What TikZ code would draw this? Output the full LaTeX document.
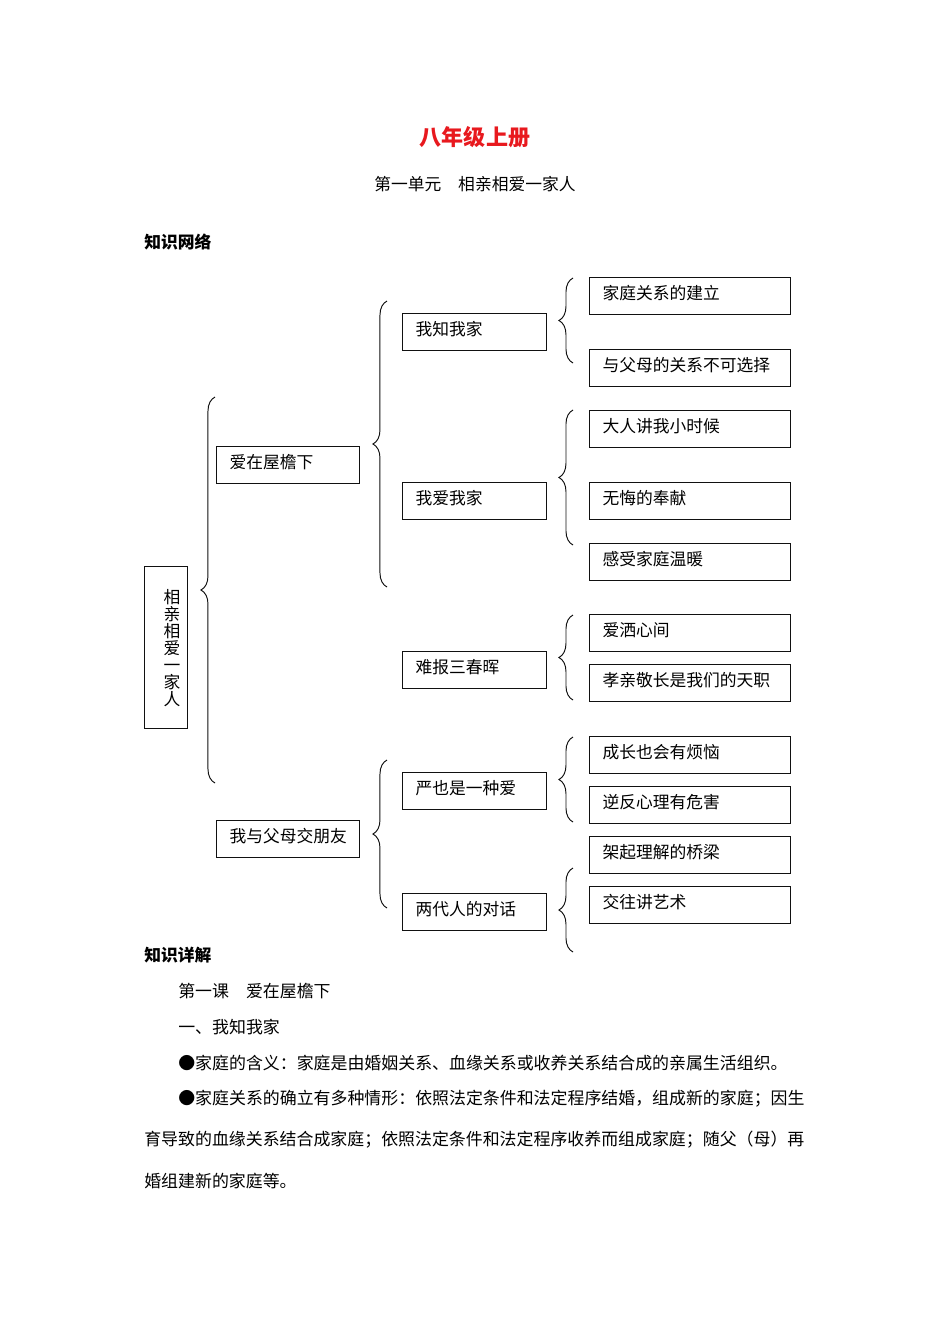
\documentclass[tikz,border=0pt]{standalone}
\usepackage{fontspec}
\setmainfont{Noto Sans CJK SC}
\usepackage{xcolor}
\usepackage{tikz}
\usetikzlibrary{decorations.pathreplacing}
\definecolor{ink}{HTML}{111111}
\definecolor{titlered}{HTML}{E8191E}

\begin{document}
\begin{tikzpicture}[
  x=0.6263pt, y=-0.6263pt,
  sectionbox/.style={rectangle, draw=ink, line width=0.75pt, anchor=north west, minimum width=89.6pt, minimum height=23.2pt, text width=73.4pt, text height=9pt, text depth=5.4pt, inner xsep=8.1pt, inner ysep=0pt, align=left, font=\fontsize{10.5}{12}\selectfont},
  topicbox/.style={sectionbox, minimum width=90.2pt, text width=74pt},
  leafbox/.style={sectionbox, minimum width=125.9pt, text width=109.7pt},
  bracepath/.style={decorate, decoration={brace, amplitude=8.8pt, aspect=0.5}, line width=0.6pt, ink},
  bodytext/.style={anchor=west, inner sep=0pt, font=\fontsize{10.6}{12}\selectfont},
  headtext/.style={bodytext, font=\fontsize{10.5}{12}\selectfont\bfseries}
]
  \fill[white] (0,0) rectangle (950,1344);
  \useasboundingbox (0,0) rectangle (950,1344);

  % page heading
  \node[font=\fontsize{13.8}{16}\selectfont\bfseries, text=titlered] (title) at (475,137) {八年级上册};
  \node[font=\fontsize{10.5}{12}\selectfont] (unit) at (475,184) {第一单元　相亲相爱一家人};
  \node[headtext] (netHead) at (144,242) {知识网络};

  % root box with its upright text
  \node[rectangle, draw=ink, line width=0.75pt, anchor=north west, minimum width=26.9pt, minimum height=101.5pt] (root) at (144,566) {};
  \node[align=center, inner sep=0pt, font=\fontsize{10.5}{10.65}\selectfont] (rootText) at (172,648) {相\\亲\\相\\爱\\一\\家\\人};

  % lessons
  \node[sectionbox] (eaves) at (216,446) {爱在屋檐下};
  \node[sectionbox] (friends) at (216,820) {我与父母交朋友};

  % topics
  \node[topicbox] (knowHome) at (402,313) {我知我家};
  \node[topicbox] (loveHome) at (402,482) {我爱我家};
  \node[topicbox] (repay) at (402,651) {难报三春晖};
  \node[topicbox] (strict) at (402,772) {严也是一种爱};
  \node[topicbox] (dialogue) at (402,893) {两代人的对话};

  % points
  \node[leafbox] (setup) at (589,277) {家庭关系的建立};
  \node[leafbox] (noChoice) at (589,349) {与父母的关系不可选择};
  \node[leafbox] (childhood) at (589,410) {大人讲我小时候};
  \node[leafbox] (devotion) at (589,482) {无悔的奉献};
  \node[leafbox] (warmth) at (589,543) {感受家庭温暖};
  \node[leafbox] (heart) at (589,614) {爱洒心间};
  \node[leafbox] (duty) at (589,664) {孝亲敬长是我们的天职};
  \node[leafbox] (worry) at (589,736) {成长也会有烦恼};
  \node[leafbox] (rebel) at (589,786) {逆反心理有危害};
  \node[leafbox] (bridge) at (589,836) {架起理解的桥梁};
  \node[leafbox] (art) at (589,886) {交往讲艺术};

  % braces, drawn bottom to top so they open to the right
  \draw[bracepath] (215,783) -- (215,397);
  \draw[bracepath] (387,587) -- (387,301);
  \draw[bracepath] (387,908) -- (387,760);
  \draw[bracepath] (573,363) -- (573,278);
  \draw[bracepath] (573,545) -- (573,410);
  \draw[bracepath] (573,700) -- (573,615);
  \draw[bracepath] (573,822) -- (573,737);
  \draw[bracepath] (573,952) -- (573,868);

  % details below the network
  \node[headtext] (detailHead) at (144,955) {知识详解};
  \node[bodytext] (lesson) at (178,991) {第一课　爱在屋檐下};
  \node[bodytext] (part) at (178,1027) {一、我知我家};
  \node[bodytext] (lineA) at (178,1063) {●家庭的含义：家庭是由婚姻关系、血缘关系或收养关系结合成的亲属生活组织。};
  \node[bodytext] (lineB) at (178,1099) {●家庭关系的确立有多种情形：依照法定条件和法定程序结婚，组成新的家庭；因生};
  \node[bodytext] (lineC) at (144,1140) {育导致的血缘关系结合成家庭；依照法定条件和法定程序收养而组成家庭；随父（母）再};
  \node[bodytext] (lineD) at (144,1181) {婚组建新的家庭等。};
\end{tikzpicture}
\end{document}
